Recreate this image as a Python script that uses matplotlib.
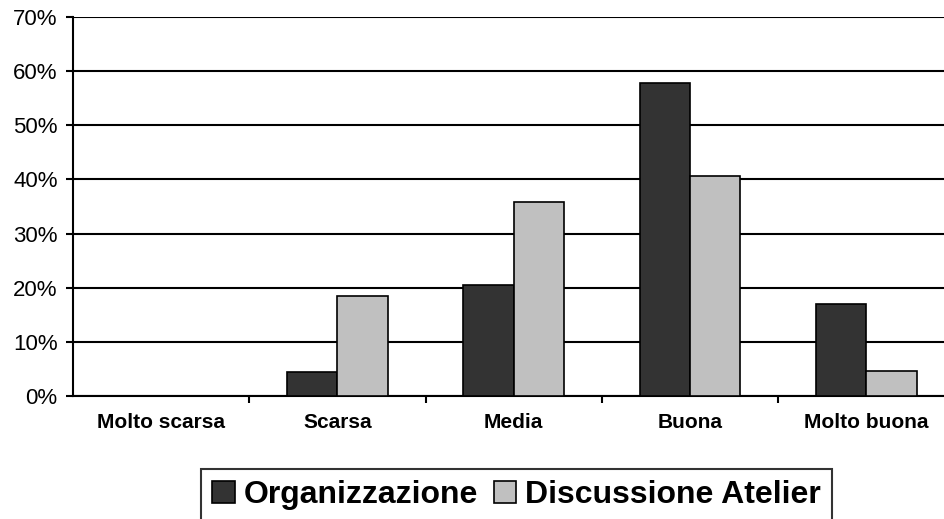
import matplotlib
matplotlib.use("Agg")
import matplotlib.pyplot as plt
import numpy as np
from matplotlib.ticker import FixedLocator, PercentFormatter

plt.rcParams['font.family'] = ['Liberation Sans', 'DejaVu Sans']

categories = ["Molto scarsa", "Scarsa", "Media", "Buona", "Molto buona"]
organizzazione = [0.0, 4.4, 20.5, 57.9, 16.9]
discussione = [0.0, 18.5, 35.9, 40.6, 4.7]
series_names = ["Organizzazione", "Discussione Atelier"]
yticks = [0, 10, 20, 30, 40, 50, 60, 70]

fig = plt.figure(figsize=(9.45, 5.19), dpi=100)
ax = fig.add_axes([73/945, 1-396/519, 1-73/945 + 0.01, (396-17)/519])

x = np.arange(len(categories))
w = 1/3.5
ax.bar(x - w/2, organizzazione, w, color="#333333", edgecolor="black", linewidth=1.2,
       label=series_names[0], zorder=3)
ax.bar(x + w/2, discussione, w, color="#C0C0C0", edgecolor="black", linewidth=1.2,
       label=series_names[1], zorder=3)

ax.set_xlim(-0.5, len(categories) - 0.5)
ax.set_ylim(0, 70)
ax.set_yticks(yticks)
ax.yaxis.set_major_formatter(PercentFormatter(decimals=0))
ax.grid(axis='y', color='black', linewidth=1.5, zorder=0)
ax.set_axisbelow(True)

ax.set_xticks(x)
ax.set_xticklabels(categories, fontsize=15, fontweight='bold')
ax.xaxis.set_minor_locator(FixedLocator(np.arange(0.5, len(categories) - 0.5, 1)))
ax.tick_params(axis='x', which='major', length=0, pad=12)
ax.tick_params(axis='x', which='minor', length=5, width=1.5, direction='out')
ax.tick_params(axis='y', length=5, width=1.5, direction='out', labelsize=16, pad=6)

for s in ['top', 'right']:
    ax.spines[s].set_visible(False)
ax.spines['left'].set_linewidth(1.5)
ax.spines['bottom'].set_linewidth(1.5)

leg = fig.legend(loc='upper center', bbox_to_anchor=(516.5/945, 1-469/519), ncol=2,
                 prop={'size': 23, 'weight': 'bold'}, frameon=True, fancybox=False,
                 edgecolor='black', handlelength=0.7, handleheight=0.7,
                 handletextpad=0.28, columnspacing=0.5, borderpad=0.35,
                 borderaxespad=0)
leg.get_frame().set_linewidth(1.5)
for h in leg.legend_handles:
    h.set_linewidth(1.2)

fig.savefig("out.png", dpi=100)
